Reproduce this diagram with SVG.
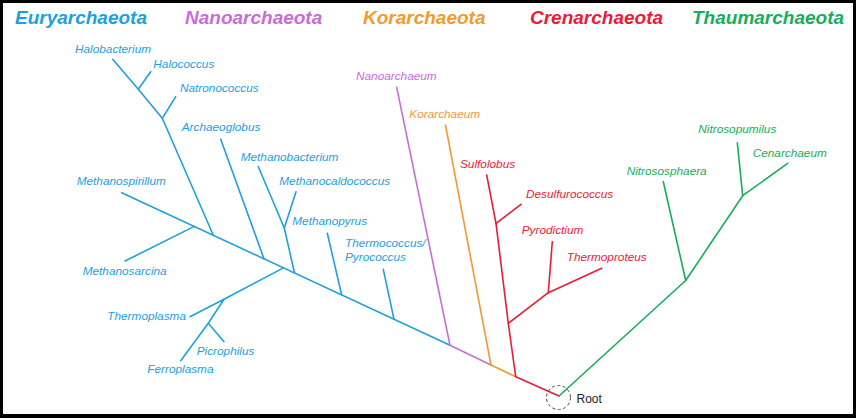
<svg xmlns="http://www.w3.org/2000/svg" width="856" height="418" viewBox="0 0 856 418">
<style>
.hdr{font-family:"Liberation Sans",Arial,sans-serif;font-size:19px;font-weight:bold;font-style:italic}
.lbl{font-family:"Liberation Sans",Arial,sans-serif;font-size:11.8px;font-style:italic}
.e{fill:#1ea0df}.n{fill:#c96bd9}.k{fill:#f39a30}.c{fill:#ec1b35}.t{fill:#17ad5c}
.ln{fill:none;stroke-width:1.6;stroke-linejoin:round;stroke-linecap:round}
.le{stroke:#1ea0df}.lnn{stroke:#c96bd9}.lk{stroke:#f39a30}.lc{stroke:#ec1b35}.lt{stroke:#17ad5c}
</style>
<rect x="0" y="0" width="856" height="418" fill="#000"/>
<rect x="3" y="3" width="850" height="411" fill="#fff"/>

<g id="headers">
<g id="h-eury"><text class="hdr e" x="15" y="24">Euryarchaeota</text></g>
<g id="h-nano"><text class="hdr n" x="185" y="24">Nanoarchaeota</text></g>
<g id="h-kor"><text class="hdr k" x="363" y="24">Korarchaeota</text></g>
<g id="h-cren"><text class="hdr c" x="530" y="24">Crenarchaeota</text></g>
<g id="h-thaum"><text class="hdr t" x="692" y="24">Thaumarchaeota</text></g>
</g>

<g id="connectors">
<!-- Euryarchaeota -->
<polyline class="ln le" points="121.7,192.7 450,345.3"/>
<polyline class="ln le" points="112.7,59.3 138.3,89.3 162.3,118.3 213.3,235.3"/>
<polyline class="ln le" points="150.7,71.7 138.3,89.3"/>
<polyline class="ln le" points="175.7,96.7 162.3,118.3"/>
<polyline class="ln le" points="125,261 194.3,226.4"/>
<polyline class="ln le" points="220.7,139.3 264,258.8"/>
<polyline class="ln le" points="258.3,166.7 284.3,228 294.5,273"/>
<polyline class="ln le" points="296,191.7 284.3,228"/>
<polyline class="ln le" points="283.5,267.9 224,299.3"/>
<polyline class="ln le" points="190,316.7 224,299.3 208.3,323.3 180.7,360.7"/>
<polyline class="ln le" points="208.3,323.3 224,341.7"/>
<polyline class="ln le" points="327.3,233.3 341.7,295"/>
<polyline class="ln le" points="383.3,269.3 394,319.3"/>
<!-- Nanoarchaeota -->
<polyline class="ln lnn" points="396.7,87.3 450,345.3 491,365"/>
<!-- Korarchaeota -->
<polyline class="ln lk" points="445.5,125 491,365 515.7,376.7"/>
<!-- Crenarchaeota -->
<polyline class="ln lc" points="486.7,175 496,223.3 508.3,323.3 515.7,376.7 559,396"/>
<polyline class="ln lc" points="496,223.3 521,204.3"/>
<polyline class="ln lc" points="508.3,323.3 548.3,292.7 552.3,241.7"/>
<polyline class="ln lc" points="548.3,292.7 601.7,268.3"/>
<!-- Thaumarchaeota -->
<polyline class="ln lt" points="559,396 685.7,280.5 742.7,195.7 787.7,163.3"/>
<polyline class="ln lt" points="685.7,280.5 663.3,181.7"/>
<polyline class="ln lt" points="742.7,195.7 737.3,142.7"/>
</g>

<g id="root">
<circle cx="558.5" cy="397.5" r="12" fill="none" stroke="#444" stroke-width="1" stroke-dasharray="3,2.5"/>
<text x="576.5" y="403" font-family="'Liberation Sans',Arial,sans-serif" font-size="12" fill="#222">Root</text>
</g>

<g id="n-halobacterium"><text class="lbl e" x="75" y="53">Halobacterium</text></g>
<g id="n-halococcus"><text class="lbl e" x="153.3" y="68.3">Halococcus</text></g>
<g id="n-natronococcus"><text class="lbl e" x="180" y="91.7">Natronococcus</text></g>
<g id="n-archaeoglobus"><text class="lbl e" x="181.7" y="130.7">Archaeoglobus</text></g>
<g id="n-methanobacterium"><text class="lbl e" x="240.7" y="161">Methanobacterium</text></g>
<g id="n-methanospirillum"><text class="lbl e" x="76.7" y="185">Methanospirillum</text></g>
<g id="n-methanocaldococcus"><text class="lbl e" x="279.3" y="185">Methanocaldococcus</text></g>
<g id="n-methanopyrus"><text class="lbl e" x="292.3" y="225">Methanopyrus</text></g>
<g id="n-thermococcus"><text class="lbl e" x="345" y="246.7">Thermococcus/</text><text class="lbl e" x="345" y="260.7">Pyrococcus</text></g>
<g id="n-methanosarcina"><text class="lbl e" x="82.7" y="275">Methanosarcina</text></g>
<g id="n-thermoplasma"><text class="lbl e" x="107.3" y="320">Thermoplasma</text></g>
<g id="n-picrophilus"><text class="lbl e" x="196.7" y="355">Picrophilus</text></g>
<g id="n-ferroplasma"><text class="lbl e" x="147.3" y="373.3">Ferroplasma</text></g>
<g id="n-nanoarchaeum"><text class="lbl n" x="356" y="80">Nanoarchaeum</text></g>
<g id="n-korarchaeum"><text class="lbl k" x="409.3" y="118.3">Korarchaeum</text></g>
<g id="n-sulfolobus"><text class="lbl c" x="460" y="168.3">Sulfolobus</text></g>
<g id="n-desulfurococcus"><text class="lbl c" x="526" y="198.3">Desulfurococcus</text></g>
<g id="n-pyrodictium"><text class="lbl c" x="521.7" y="234.3">Pyrodictium</text></g>
<g id="n-thermoproteus"><text class="lbl c" x="566.7" y="261">Thermoproteus</text></g>
<g id="n-nitrososphaera"><text class="lbl t" x="626.7" y="175">Nitrososphaera</text></g>
<g id="n-nitrosopumilus"><text class="lbl t" x="698.3" y="133.3">Nitrosopumilus</text></g>
<g id="n-cenarchaeum"><text class="lbl t" x="752.7" y="157.3">Cenarchaeum</text></g>
</svg>
